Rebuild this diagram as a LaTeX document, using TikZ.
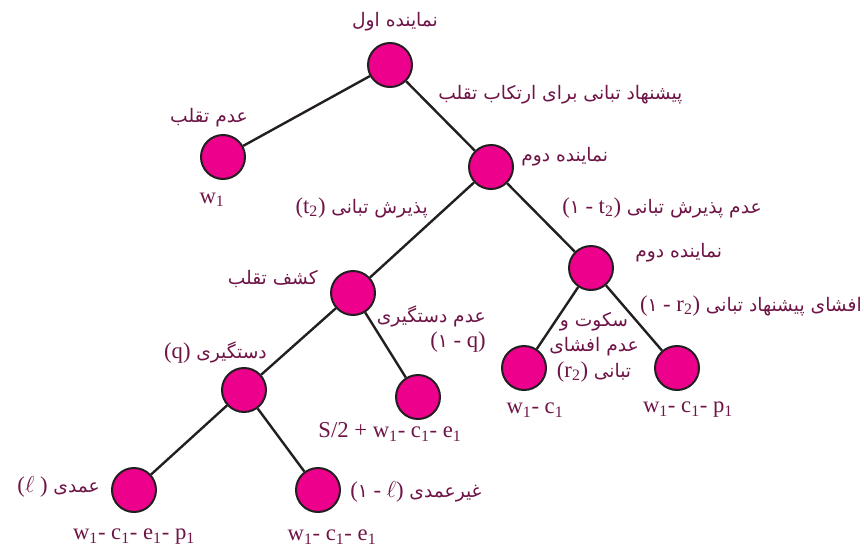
\documentclass[tikz,border=0pt]{standalone}
\usepackage{fontspec}
\setmainfont{Liberation Serif}
\newfontfamily\farsi[Script=Arabic]{DejaVu Sans}
\TeXXeTstate=1
\definecolor{nodepink}{HTML}{EC008C}
\definecolor{labelplum}{HTML}{6E1446}
\definecolor{edgeblack}{HTML}{231F20}
\newcommand{\fa}[1]{{\farsi\fontsize{14}{17}\selectfont\beginR #1\endR}}
\newcommand{\sbs}[1]{\textsubscript{#1}}
\tikzset{
  agent/.style={circle,draw=edgeblack,line width=1.5pt,fill=nodepink,minimum size=33pt,inner sep=0pt},
  lbl/.style={text=labelplum,font=\fontsize{17}{20}\selectfont,inner sep=0pt,align=center},
  branch/.style={draw=edgeblack,line width=1.8pt}
}

\begin{document}
\begin{tikzpicture}[x=0.75pt,y=-0.75pt]
\useasboundingbox (0,0) rectangle (864,550);

\node[agent] (root) at (390,65) {};
\node[agent] (nofraud) at (223,157) {};
\node[agent] (agent2) at (491,167) {};
\node[agent] (detect) at (353,293) {};
\node[agent] (agent2b) at (591,268) {};
\node[agent] (catch) at (244,390) {};
\node[agent] (nocatch) at (418,397) {};
\node[agent] (silent) at (524,368) {};
\node[agent] (disclose) at (677,368) {};
\node[agent] (intent) at (134,490) {};
\node[agent] (unintent) at (318,490) {};

\draw[branch] (root) -- (nofraud);
\draw[branch] (root) -- (agent2);
\draw[branch] (agent2) -- (detect);
\draw[branch] (agent2) -- (agent2b);
\draw[branch] (detect) -- (catch);
\draw[branch] (detect) -- (nocatch);
\draw[branch] (agent2b) -- (silent);
\draw[branch] (agent2b) -- (disclose);
\draw[branch] (catch) -- (intent);
\draw[branch] (catch) -- (unintent);

\node[lbl] (lroot) at (395,22) {\fa{نماینده اول}};
\node[lbl,anchor=west] (loffer) at (438,95) {\fa{پیشنهاد تبانی برای ارتکاب تقلب}};
\node[lbl] (lnofraud) at (209,118) {\fa{عدم تقلب}};
\node[lbl] (lw1) at (212,200) {w\sbs{1}};
\node[lbl,anchor=west] (lagent2) at (521,157) {\fa{نماینده دوم}};
\node[lbl,anchor=east] (laccept) at (428,208) {(t\sbs{2}) \fa{پذیرش تبانی}};
\node[lbl,anchor=west] (lreject) at (562,208) {(\fa{۱} - t\sbs{2}) \fa{عدم پذیرش تبانی}};
\node[lbl,anchor=west] (lagent2b) at (635,253) {\fa{نماینده دوم}};
\node[lbl,anchor=east] (ldisclose) at (862,306) {(\fa{۱} - r\sbs{2}) \fa{افشای پیشنهاد تبانی}};
\node[lbl] (lsilent) at (594,347) {\fa{سکوت و}\\[-1pt] \fa{عدم افشای}\\[-1pt] (r\sbs{2}) \fa{تبانی}};
\node[lbl] (lw1c1) at (535,410) {w\sbs{1}- c\sbs{1}};
\node[lbl] (lw1c1p1) at (688,410) {w\sbs{1}- c\sbs{1}- p\sbs{1}};
\node[lbl,anchor=east] (ldetect) at (318,279) {\fa{کشف تقلب}};
\node[lbl,align=right,anchor=east] (lnocatch) at (486,329) {\fa{عدم دستگیری}\\[-1pt] (\fa{۱} - q)};
\node[lbl,anchor=east] (lcatch) at (267,353) {(q) \fa{دستگیری}};
\node[lbl] (lsum) at (390,432) {S/2 + w\sbs{1}- c\sbs{1}- e\sbs{1}};
\node[lbl,anchor=east] (lintent) at (100,487) {($\ell$ ) \fa{عمدی}};
\node[lbl,anchor=west] (lunintent) at (350,492) {(\fa{۱} - $\ell$) \fa{غیرعمدی}};
\node[lbl] (lwcep) at (134,537) {w\sbs{1}- c\sbs{1}- e\sbs{1}- p\sbs{1}};
\node[lbl] (lwce) at (332,537) {w\sbs{1}- c\sbs{1}- e\sbs{1}};
\end{tikzpicture}
\end{document}
